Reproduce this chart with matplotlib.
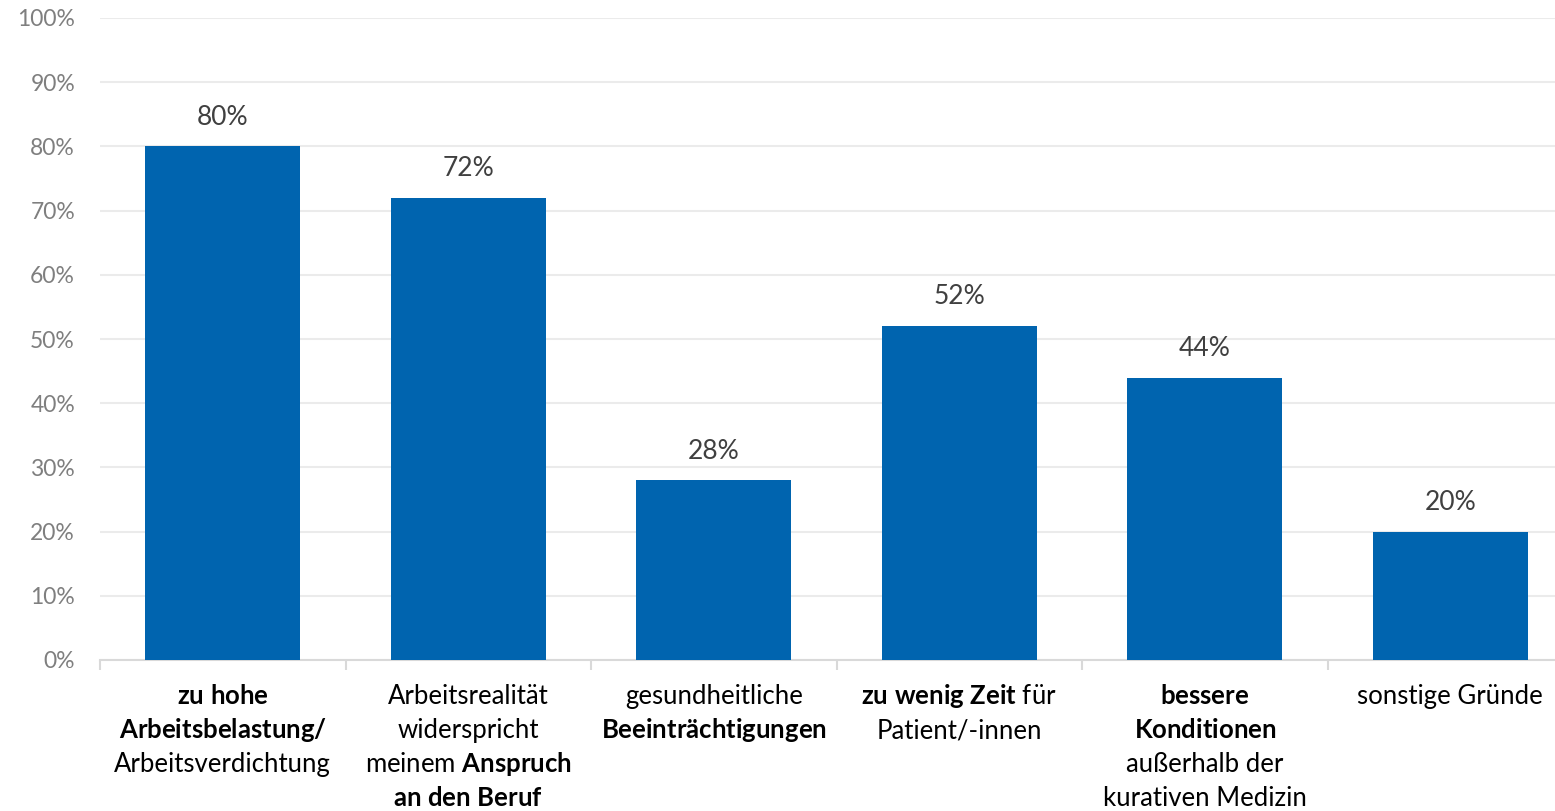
import numpy as np
import matplotlib
matplotlib.use("Agg")
import matplotlib.pyplot as plt
from matplotlib.ticker import FixedLocator

### Data
labels = [
    "$\\mathbf{zu\\ hohe}$\n$\\mathbf{Arbeitsbelastung/}$\nArbeitsverdichtung",
    "Arbeitsrealität\nwiderspricht\nmeinem $\\mathbf{Anspruch}$\n$\\mathbf{an\\ den\\ Beruf}$",
    "gesundheitliche\n$\\mathbf{Beeinträchtigungen}$",
    "$\\mathbf{zu\\ wenig\\ Zeit}$ für\nPatient/-innen",
    "$\\mathbf{bessere}$\n$\\mathbf{Konditionen}$\naußerhalb der\nkurativen Medizin",
    "sonstige Gründe",
]
values = [80, 72, 28, 52, 44, 20]
yticks = [0, 10, 20, 30, 40, 50, 60, 70, 80, 90, 100]

### Fonts
plt.rcParams['font.family'] = ['Lato', 'DejaVu Sans']
plt.rcParams['mathtext.fontset'] = 'custom'
plt.rcParams['mathtext.rm'] = 'Lato'
plt.rcParams['mathtext.it'] = 'Lato:italic'
plt.rcParams['mathtext.bf'] = 'Lato:bold'

bar_color = '#0064AF'

### Create Figure
fig = plt.figure(figsize=(15.55, 8.11), dpi=100)
ax = fig.add_axes([100 / 1555, 1 - 660 / 811, 1473 / 1555, 642 / 811])

x = np.arange(len(values))
ax.bar(x, values, width=0.63, color=bar_color, zorder=3)

# value labels above the bars
for xi, v in zip(x, values):
    ax.annotate(f"{v}%", (xi, v), xytext=(0, 12), textcoords='offset points',
                ha='center', va='bottom', fontsize=19, color='#404040')

# category labels, one text per line so the line spacing stays even
for xi, lab in zip(x, labels):
    for i, line in enumerate(lab.split("\n")):
        ax.annotate(line, (xi, 0), xycoords=('data', 'axes fraction'),
                    xytext=(0, -31.7 - i * 24.5), textcoords='offset points',
                    ha='center', va='baseline', fontsize=18.5, color='black')

ax.set_xlim(-0.5, len(values) - 0.5)
ax.set_ylim(0, 100)
ax.set_yticks(yticks)
ax.set_yticklabels([f"{t}%" for t in yticks])
ax.grid(axis='y', color='#ebebeb', linewidth=1.5, zorder=0)
ax.tick_params(axis='y', length=0, pad=18, labelsize=16.5, labelcolor='#7f7f7f')

ax.set_xticks(x)
ax.set_xticklabels([])
ax.xaxis.set_minor_locator(FixedLocator(np.arange(-0.5, len(values), 1.0)))
ax.tick_params(axis='x', which='major', length=0)
ax.tick_params(axis='x', which='minor', length=7, color='#d9d9d9', width=1.5)

for side in ['top', 'right', 'left']:
    ax.spines[side].set_visible(False)
ax.spines['bottom'].set_color('#d9d9d9')
ax.spines['bottom'].set_linewidth(1.5)

fig.savefig("out.png", dpi=100)
